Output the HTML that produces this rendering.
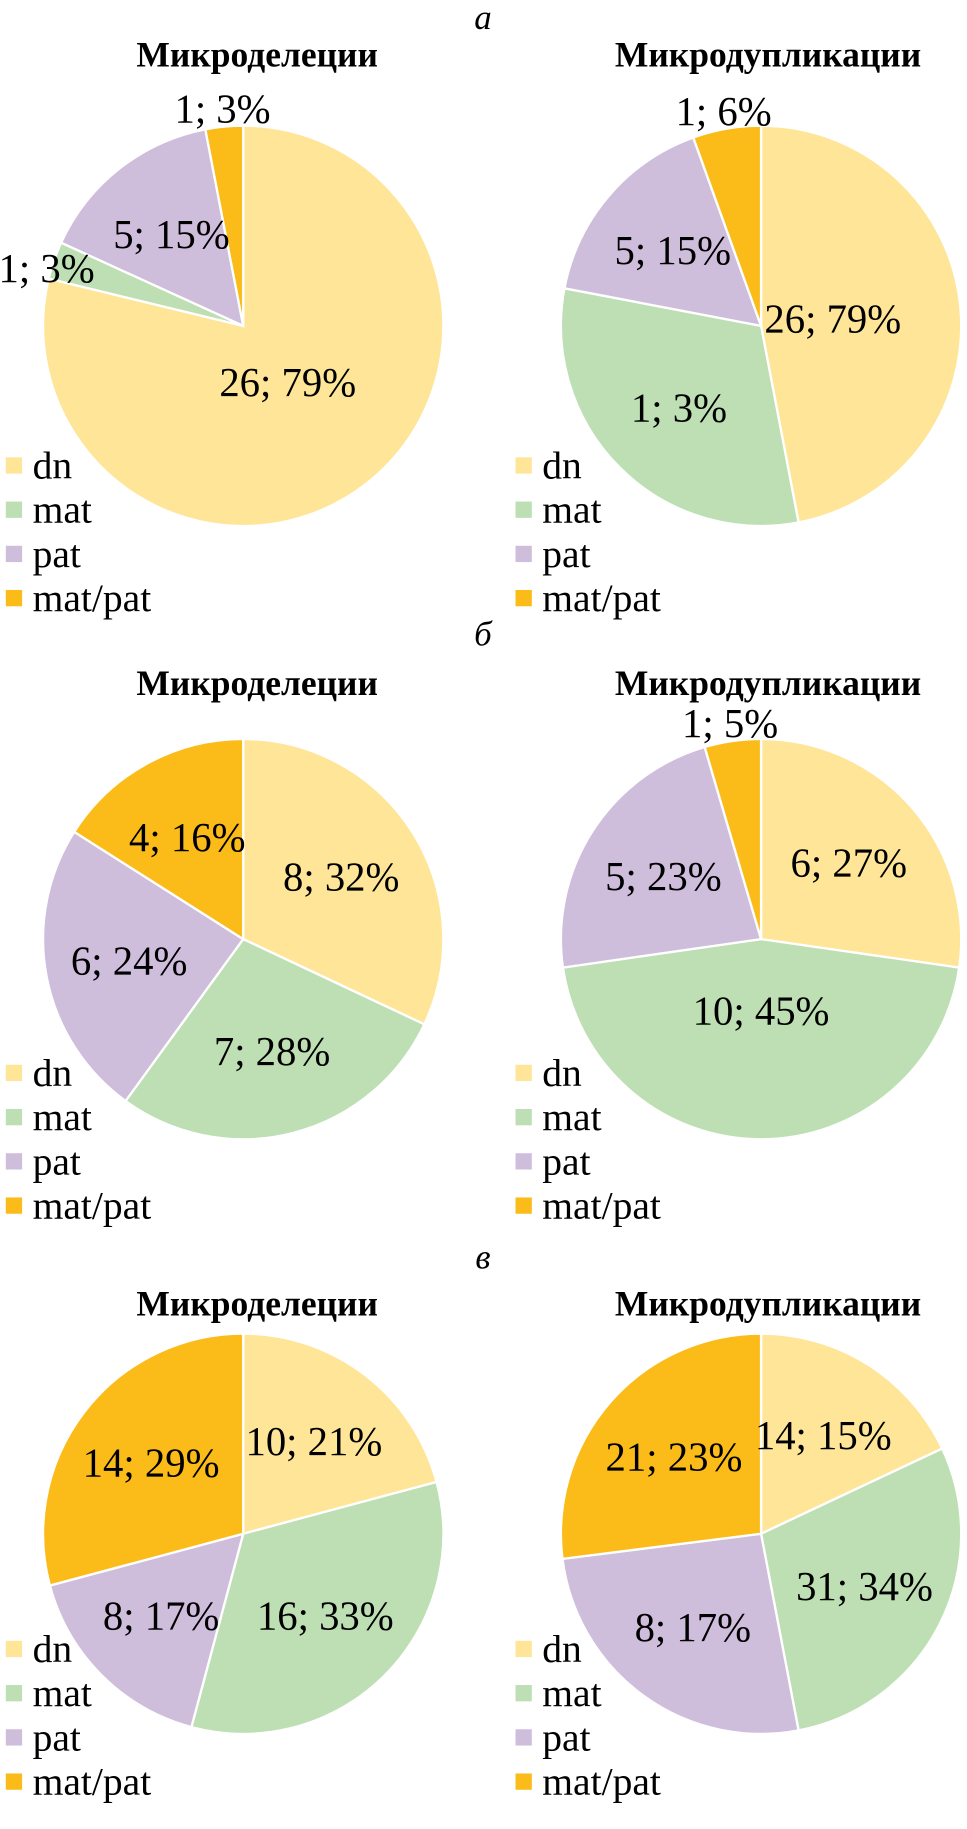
<!DOCTYPE html>
<html><head><meta charset="utf-8">
<style>
body{margin:0;background:#fff;width:967px;height:1829px;overflow:hidden;font-family:"Liberation Serif",serif;}
svg{display:block}
</style></head>
<body>
<svg id="c" width="967" height="1829"><g id="root" transform="scale(1.1637)"></g></svg>
<script>
const categories = ["dn","mat","pat","mat/pat"];
const colors = ["#fee598","#bddfb3","#cfbddc","#fbbb19"];
const aDelValues = [26,1,5,1];
const aDelLabels = ["26; 79%","1; 3%","5; 15%","1; 3%"];
const aDupValues = [47,31,16.5,5.5];
const aDupLabels = ["26; 79%","1; 3%","5; 15%","1; 6%"];
const bDelValues = [8,7,6,4];
const bDelLabels = ["8; 32%","7; 28%","6; 24%","4; 16%"];
const bDupValues = [6,10,5,1];
const bDupLabels = ["6; 27%","10; 45%","5; 23%","1; 5%"];
const cDelValues = [10,16,8,14];
const cDelLabels = ["10; 21%","16; 33%","8; 17%","14; 29%"];
const cDupValues = [18,29,26,27];
const cDupLabels = ["14; 15%","31; 34%","8; 17%","21; 23%"];

const NS="http://www.w3.org/2000/svg";
const root=document.getElementById('root');
function mk(tag,attrs,parent){const e=document.createElementNS(NS,tag);for(const k in attrs)e.setAttribute(k,attrs[k]);(parent||root).appendChild(e);return e;}
function txt(x,y,s,size,extra,parent){const t=mk('text',Object.assign({x:x,y:y,'font-size':size,'text-anchor':'middle','dominant-baseline':'central'},extra||{}),parent);t.textContent=s;return t;}

const panels=[
 {letter:"а",ly:15,cy:280,legY:400,ty:47,charts:[[aDelValues,aDelLabels,"Микроделеции"],[aDupValues,aDupLabels,"Микродупликации"]]},
 {letter:"б",ly:545,cy:807,legY:922,ty:587,charts:[[bDelValues,bDelLabels,"Микроделеции"],[bDupValues,bDupLabels,"Микродупликации"]]},
 {letter:"в",ly:1080,cy:1318,legY:1417,ty:1120,charts:[[cDelValues,cDelLabels,"Микроделеции"],[cDupValues,cDupLabels,"Микродупликации"]]}
];
const R=172;
function pt(cx,cy,r,a){return [cx+r*Math.sin(a),cy-r*Math.cos(a)];}
panels.forEach((p,pi)=>{
  const l=txt(415,p.ly,p.letter,30,{'font-style':'italic'});
  
  
  p.charts.forEach((ch,ci)=>{
    const [vals,labs,title]=ch;
    const cx=ci===0?209:654, cy=p.cy;
    const g=mk('g',{});
    
    
    const tt=txt(ci===0?221:660,p.ty,title,30.5,{'font-weight':'bold'},g);
    
    
    const tot=vals.reduce((a,b)=>a+b,0);
    let a0=0;
    const labelQueue=[];
    vals.forEach((v,i)=>{
      const a1=a0+v/tot*2*Math.PI;
      const s=pt(cx,cy,R,a0),e=pt(cx,cy,R,a1);
      const large=(a1-a0)>Math.PI?1:0;
      const path=mk('path',{d:`M${cx},${cy} L${s[0]},${s[1]} A${R},${R} 0 ${large} 1 ${e[0]},${e[1]} Z`,fill:colors[i],stroke:'#fff','stroke-width':2},g);
      
      
      const mid=(a0+a1)/2;
      const frac=v/tot;
      let rr=frac<0.07?R+15:(frac>0.4?R*0.36:R*0.58);
      let [lx,ly]=pt(cx,cy,rr,mid);
      if(frac<0.07){ lx=Math.max(lx,40); if(Math.abs(Math.sin(mid))>0.7) ly+=12; }
      labelQueue.push([lx,ly,labs[i]]);
      a0=a1;
    });
    labelQueue.forEach(q=>{
      const lt=txt(q[0],q[1],q[2],35,{},g);
      
      
    });
    const lg=mk('g',{});
    
    
    const lx=ci===0?5:443;
    categories.forEach((c,i)=>{
      const y=p.legY+i*38;
      const r=mk('rect',{x:lx,y:y-7,width:14,height:14,fill:colors[i]},lg);
      
      
      const t=mk('text',{x:lx+23,y:y,'font-size':34,'dominant-baseline':'central'},lg);
      t.textContent=c;
      
      
    });
  });
});
</script>
</body></html>
